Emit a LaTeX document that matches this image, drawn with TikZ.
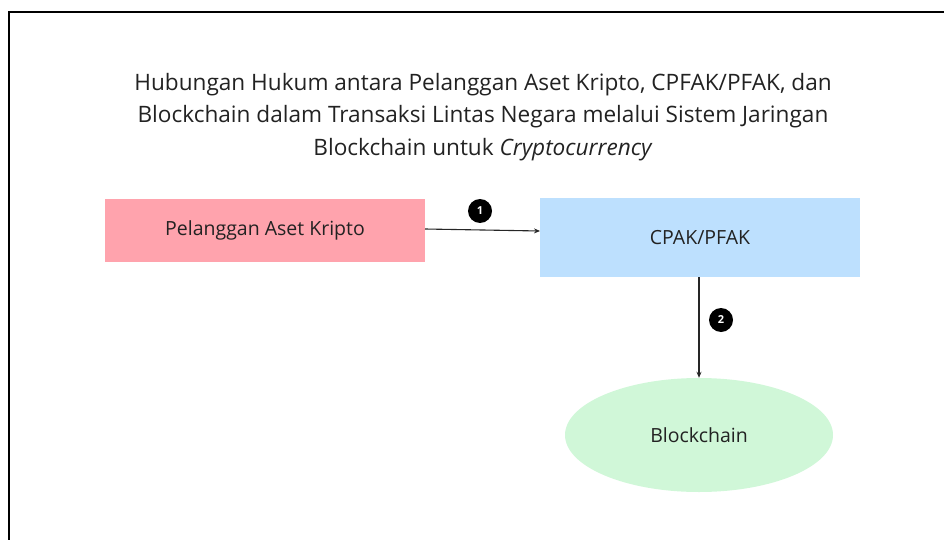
\documentclass[tikz,border=0pt]{standalone}
\usepackage{fontspec}
\setmainfont{Open Sans}
\usetikzlibrary{arrows.meta,shapes.geometric}
\definecolor{pinkbox}{HTML}{FFA3AD}
\definecolor{bluebox}{HTML}{BDE0FE}
\definecolor{greenell}{HTML}{D0F7D8}
\definecolor{txt}{HTML}{222222}
\tikzset{
  box/.style={draw=none, rectangle, inner sep=0pt, text=txt, font=\fontsize{19.5}{22}\selectfont},
  badge/.style={circle, fill=black, text=white, inner sep=0pt, minimum size=24pt, font=\fontsize{11}{12}\selectfont\bfseries},
  conn/.style={-{Stealth[length=6pt,width=5pt]}, line width=1.1pt, draw=black!85},
}
\begin{document}
\begin{tikzpicture}[x=1pt,y=-1pt]
\useasboundingbox (0,0) rectangle (944,540);
% frame (left and top only)
\draw[line width=2.5pt] (9,540) -- (9,12) -- (944,12);
% title
\node[text=txt, align=center, font=\fontsize{22.6}{32.5}\selectfont] (title) at (483,117)
  {Hubungan Hukum antara Pelanggan Aset Kripto, CPFAK/PFAK, dan\\
   Blockchain dalam Transaksi Lintas Negara melalui Sistem Jaringan\\
   Blockchain untuk \textit{Cryptocurrency}};
% nodes
\node[box, fill=pinkbox, minimum width=320pt, minimum height=63pt] (cust) at (265,230.5) {\raisebox{-2pt}{Pelanggan Aset Kripto}};
\node[box, fill=bluebox, minimum width=320pt, minimum height=79pt] (cpak) at (700,237.5) {CPAK/PFAK};
\node[ellipse, fill=greenell, text=txt, inner sep=0pt, minimum width=268pt, minimum height=114pt, font=\fontsize{19.5}{22}\selectfont] (bc) at (699,435) {Blockchain};
% connectors
\coordinate (a1s) at (425,229);
\coordinate (a1e) at (540,231);
\draw[conn] (a1s) -- (a1e);
\draw[conn] (cpak.south -| bc.north) -- (bc.north);
% badges
\node[badge] (b1) at (480,211) {1};
\node[badge] (b2) at (721,320) {2};
\end{tikzpicture}
\end{document}
